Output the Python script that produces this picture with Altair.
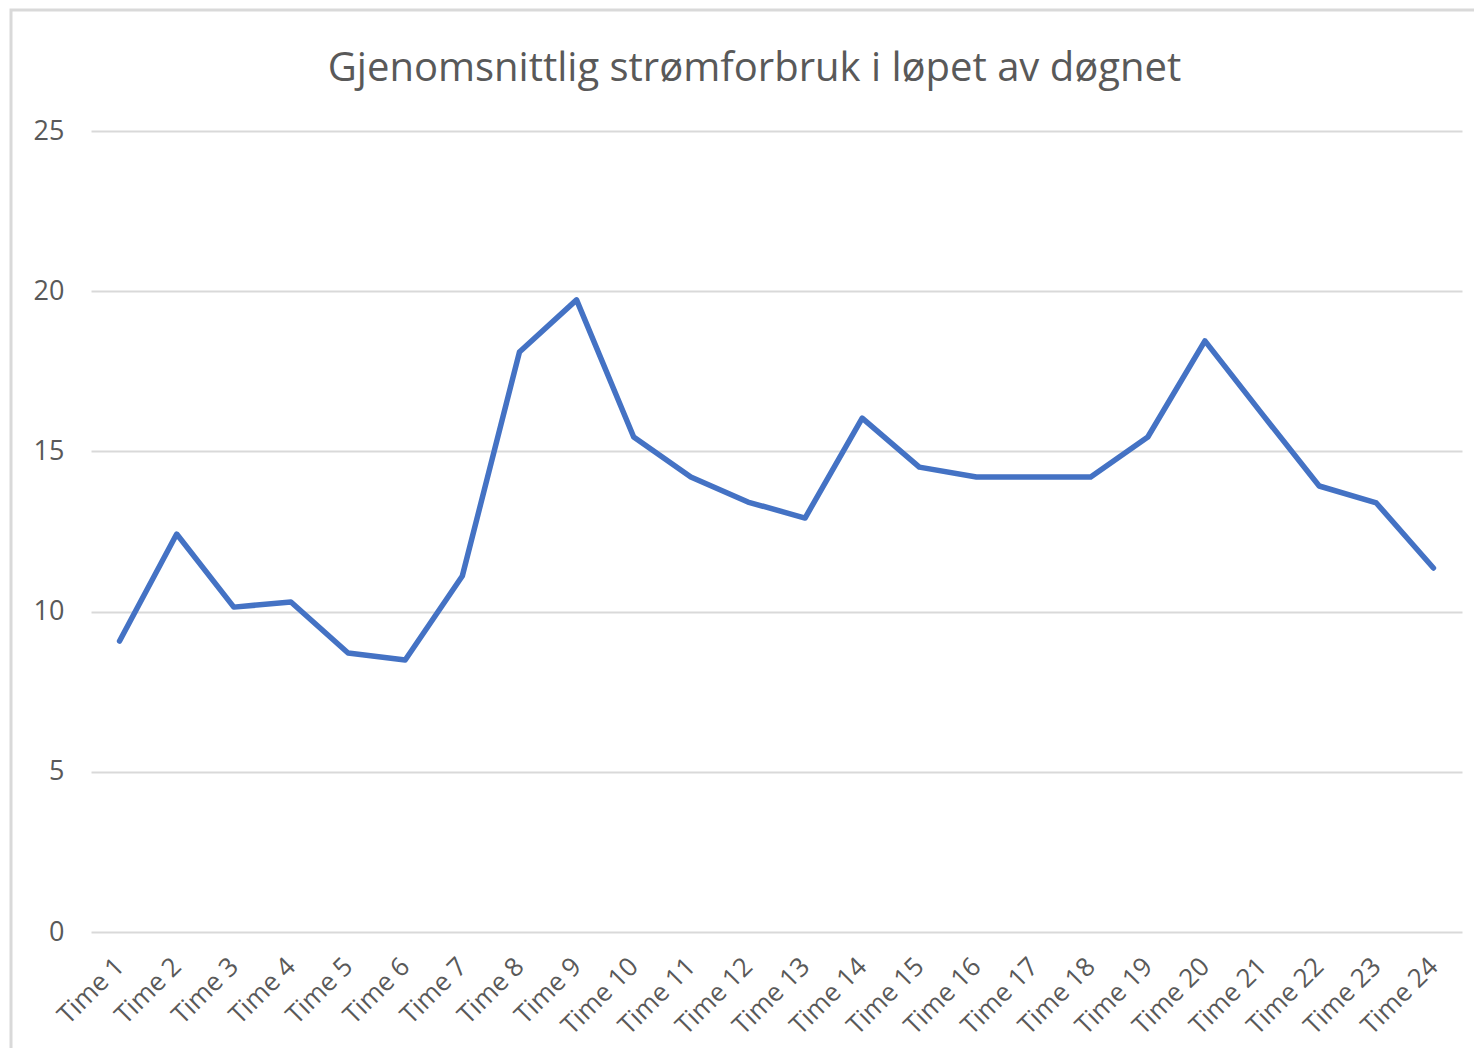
import altair as alt
import pandas as pd

hours = [f"Time {i}" for i in range(1, 25)]
values = [9.08, 12.42, 10.14, 10.30, 8.71, 8.49, 11.11, 18.10, 19.73, 15.45,
          14.20, 13.42, 12.92, 16.04, 14.51, 14.20, 14.20, 14.20, 15.45, 18.45,
          16.17, 13.92, 13.39, 11.36]
y_ticks = [0, 5, 10, 15, 20, 25]

df = pd.DataFrame({"time": hours, "value": values})

W, H = 1371, 801
FONT = "Open Sans"

line = alt.Chart(df).mark_line(
    color="#4472C4", strokeWidth=5.5, strokeCap="round", strokeJoin="round"
).encode(
    x=alt.X("time:N", sort=hours, scale=alt.Scale(type="point", padding=0.5),
            axis=alt.Axis(title=None, labelAngle=-45, labelAlign="right", labelBaseline="middle",
                          labelPadding=30, ticks=False, domain=False, grid=False,
                          labelFontSize=26, labelColor="#595959", labelFont=FONT)),
    y=alt.Y("value:Q", scale=alt.Scale(domain=[0, 25], nice=False),
            axis=alt.Axis(title=None, values=y_ticks, ticks=False, domain=False,
                          grid=True, gridColor="#d9d9d9", gridWidth=2,
                          labelPadding=27, labelFontSize=27, labelColor="#595959", labelFont=FONT)),
)

border = alt.Chart(df).mark_rect(
    fill=None, stroke="#d9d9d9", strokeWidth=3, clip=False
).encode(
    x=alt.value(-80), x2=alt.value(W + 60), y=alt.value(-121), y2=alt.value(H + 200)
).transform_filter(alt.datum.time == "Time 1")

chart = alt.layer(border, line).properties(
    width=W, height=H, background="white",
    title=alt.TitleParams("Gjenomsnittlig strømforbruk i løpet av døgnet",
                          fontSize=40, font=FONT, fontWeight="normal", color="#595959",
                          anchor="middle", frame="group", dx=-22, offset=-80),
    autosize=alt.AutoSizeParams(type="none"),
    padding={"left": 83, "top": 123, "right": 12, "bottom": 116},
).configure_view(strokeWidth=0, stroke=None)

chart.save("out.html", embed_options={"renderer": "svg", "actions": False})
